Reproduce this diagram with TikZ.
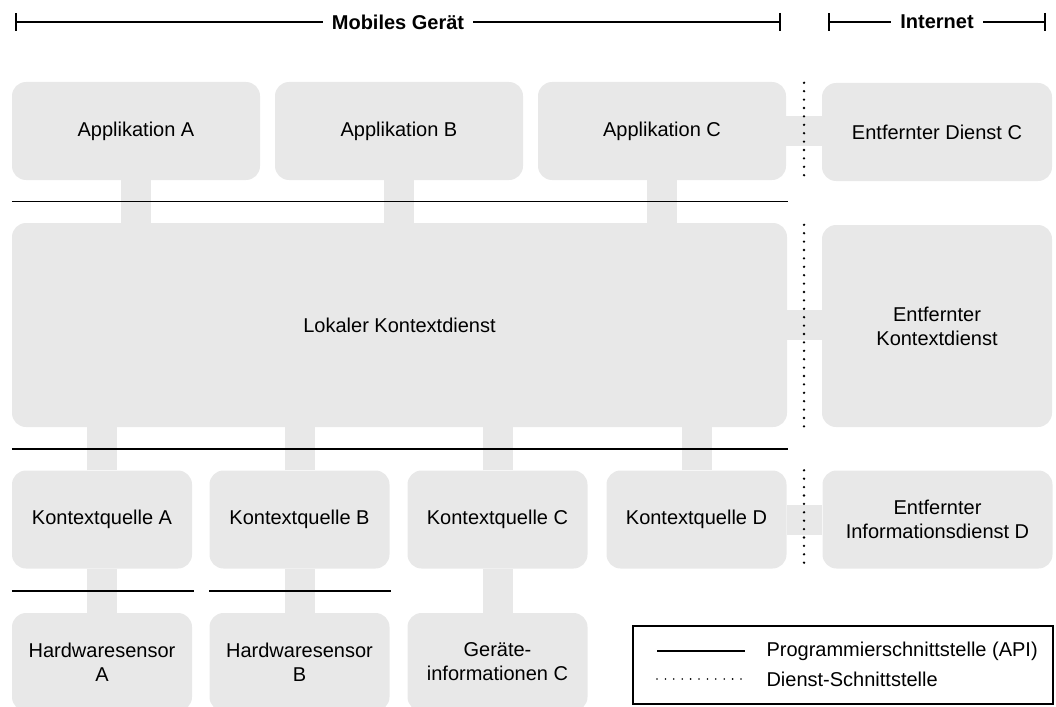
\documentclass[tikz,border=0pt]{standalone}
\usepackage{fontspec}
\setmainfont{Liberation Sans}
\usetikzlibrary{arrows.meta, calc, positioning}
\definecolor{boxgray}{RGB}{232,232,232}

\begin{document}
\begin{tikzpicture}[x=1pt, y=-1pt,
    box/.style={fill=boxgray, rounded corners=14pt, inner sep=0pt, align=center,
        minimum width=180pt, minimum height=98pt, font=\fontsize{20}{24}\selectfont},
    link/.style={draw=boxgray, line width=30pt},
    api/.style={line width=1.6pt},
    dienst/.style={line width=2.6pt, line cap=round, dash pattern=on 0pt off 8.4pt},
    span/.style={line width=2.2pt, {Bar[width=18pt]}-{Bar[width=18pt]}},
    spanlabel/.style={fill=white, inner xsep=9pt, font=\fontsize{20}{24}\selectfont\bfseries}
]
    \useasboundingbox (0,0) rectangle (1056,706);

    % Header
    \coordinate (mg-l) at (15,22);
    \coordinate (mg-r) at (781,22);
    \coordinate (in-l) at (828,22);
    \coordinate (in-r) at (1046,22);
    \draw[span] (mg-l) -- node[spanlabel] (mobil) {Mobiles Gerät} (mg-r);
    \draw[span] (in-l) -- node[spanlabel] (internet) {Internet} (in-r);

    % Applications
    \node[box, minimum width=248pt] (appa) at (136,131) {Applikation A};
    \node[box, minimum width=248pt] (appb) at (399,131) {Applikation B};
    \node[box, minimum width=248pt] (appc) at (662,131) {Applikation C};
    \node[box, minimum width=230pt] (dienstc) at (937,132) {Entfernter Dienst C};

    % Context services
    \node[box, minimum width=775pt, minimum height=204pt] (lokal) at (399.5,325) {Lokaler Kontextdienst};
    \node[box, minimum width=230pt, minimum height=202pt] (ekd) at (937,326) {Entfernter\\Kontextdienst};

    % Context sources
    \node[box] (kqa) at (102,519.5) {Kontextquelle A};
    \node[box] (kqb) at (299.5,519.5) {Kontextquelle B};
    \node[box] (kqc) at (497.5,519.5) {Kontextquelle C};
    \node[box] (kqd) at (696.5,519.5) {Kontextquelle D};
    \node[box, minimum width=230pt] (eid) at (937.5,519.5) {Entfernter\\Informationsdienst D};

    % Sensors
    \node[box] (hwa) at (102,662) {Hardwaresensor\\A};
    \node[box] (hwb) at (299.5,662) {Hardwaresensor\\B};
    \node[box] (gic) at (497.5,662) {Geräte-\\informationen C};

    % Links
    \draw[link] (appa.south) -- (appa.south |- lokal.north);
    \draw[link] (appb.south) -- (appb.south |- lokal.north);
    \draw[link] (appc.south) -- (appc.south |- lokal.north);
    \draw[link] (appc.east) -- (appc.east -| dienstc.west);

    \draw[link] (kqa.north) -- (kqa.north |- lokal.south);
    \draw[link] (kqb.north) -- (kqb.north |- lokal.south);
    \draw[link] (kqc.north) -- (kqc.north |- lokal.south);
    \draw[link] (kqd.north) -- (kqd.north |- lokal.south);
    \draw[link] (lokal.east) -- (lokal.east -| ekd.west);
    \draw[link] (kqd.east) -- (kqd.east -| eid.west);

    \draw[link] (kqa.south) -- (hwa.north);
    \draw[link] (kqb.south) -- (hwb.north);
    \draw[link] (kqc.south) -- (gic.north);

    % API lines
    \coordinate (api1) at ($(appa.south west)!.5!(lokal.north west)$);
    \coordinate (api2) at ($(lokal.south west)!.5!(kqa.north west)$);
    \coordinate (api3) at ($(kqa.south west)!.5!(hwa.north west)$);
    \coordinate (api4) at ($(kqb.south west)!.5!(hwb.north west)$);
    \draw[api] (api1) -- (api1 -| 788,0);
    \draw[api] (api2) -- (api2 -| 788,0);
    \draw[api] (api3) -- (api3 -| 194,0);
    \draw[api] (api4) -- (api4 -| 391,0);

    % Service interfaces
    \coordinate (sep) at ($(appc.east)!.5!(dienstc.west)$);
    \draw[dienst] (sep |- dienstc.north) -- (sep |- dienstc.south);
    \draw[dienst] (sep |- ekd.north) -- (sep |- ekd.south);
    \draw[dienst] (sep |- eid.north) -- (sep |- eid.south);

    % Legend
    \node[draw, line width=1.3pt, minimum width=420pt, minimum height=78pt, inner sep=0pt] (legend) at (843,665) {};
    \node[anchor=west, font=\fontsize{20}{24}\selectfont] (leg-api) at (763,651) {Programmierschnittstelle (API)};
    \node[anchor=west, font=\fontsize{20}{24}\selectfont] (leg-dienst) at (763,679) {Dienst-Schnittstelle};
    \draw[api] ($(leg-api.west)+(-106,0)$) -- ++(88,0);
    \draw[dienst, line width=1.8pt] ($(leg-dienst.west)+(-106,0)$) -- ++(88,0);
\end{tikzpicture}
\end{document}
